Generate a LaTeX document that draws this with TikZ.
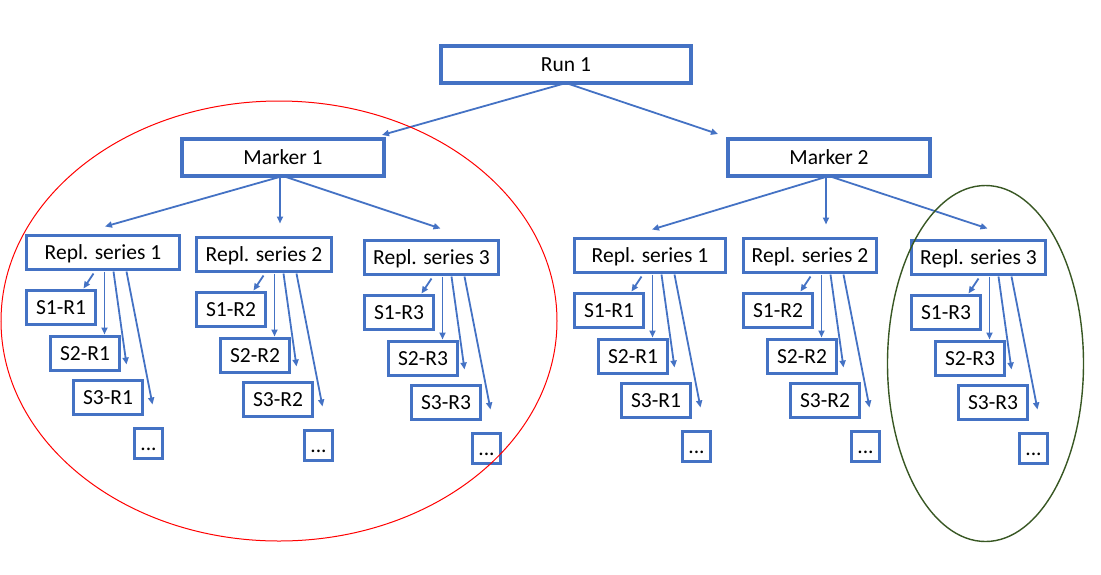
\documentclass[tikz,border=0pt]{standalone}
\usepackage{fontspec}
\setmainfont{Carlito}
\usetikzlibrary{arrows.meta,calc}
\definecolor{boxblue}{HTML}{4472C4}
\definecolor{ringgreen}{HTML}{385723}

\begin{document}
\begin{tikzpicture}[x=1pt,y=-1pt,
		font=\fontsize{21.5}{25}\selectfont,
		box/.style={draw=boxblue,line width=3.8pt,inner sep=0pt,outer sep=0pt,anchor=north west,text height=14.5pt,text depth=0.5pt},
		link/.style={draw=boxblue,line width=1.8pt,-{Triangle[length=7pt,width=6pt]}}]
	\useasboundingbox (0,0) rectangle (1101,574);

	% top levels
	\node[box,minimum width=250,minimum height=37] (run) at (441,46) {Run 1};
	\node[box,minimum width=202,minimum height=37] (m1) at (182,139) {Marker 1};
	\node[box,minimum width=202,minimum height=37] (m2) at (728,139) {Marker 2};
	\draw[link] (run.south) -- ($(m1.north east)+(-2,-4)$);
	\draw[link] (run.south) -- ($(m2.north west)+(-10,-5)$);

	% replicate series with their samples
	\foreach \x/\y/\w/\r [count=\g] in {26.5/235.5/153/1,196.5/237.5/135/2,364.5/240.5/134/3,574.5/238.5/151/1,743.5/238.5/133/2,911.5/240.5/134/3} {
		\node[box,minimum width=\w,minimum height=34] (rs\g) at (\x,\y) {Repl. series \r};
		\foreach \s/\dx/\dy in {1/0/21,2/24/67,3/47/111} {
			\node[box,minimum width=69,minimum height=34] (s\s-\g) at ($(rs\g.south west)+(\dx,\dy)$) {S\s-R\r};
		}
		\node[box,minimum width=28,minimum height=30] (d\g) at ($(rs\g.south west)+(108,159)$) {...};
		\draw[link] ($(rs\g.south west)+(67,4)$) -- ($(s1-\g.north east)+(-12,-2)$);
		\draw[link] ($(rs\g.south west)+(78,2)$) -- ($(s2-\g.north east)+(-15,-2)$);
		\draw[link] ($(rs\g.south west)+(87,2)$) -- ($(s2-\g.east)+(7,11)$);
		\draw[link] ($(rs\g.south west)+(100,2)$) -- ($(s3-\g.east)+(10,7)$);
	}

	% marker to series
	\foreach \mk/\a/\b/\c in {m1/rs1/rs2/rs3,m2/rs4/rs5/rs6} {
		\draw[link] (\mk.south) -- ($(\a.north)+(2,-9)$);
		\draw[link] ($(\mk.south)+(-3,0)$) -- ($(\b.north)+(16,-14)$);
		\draw[link] (\mk.south) -- ($(\c.north)+(9,-12)$);
	}

	% groupings
	\draw[red,line width=1pt] (279,321) ellipse (278 and 220);
	\draw[ringgreen,line width=1.4pt] (985.5,363.5) ellipse (98 and 178);
\end{tikzpicture}
\end{document}
